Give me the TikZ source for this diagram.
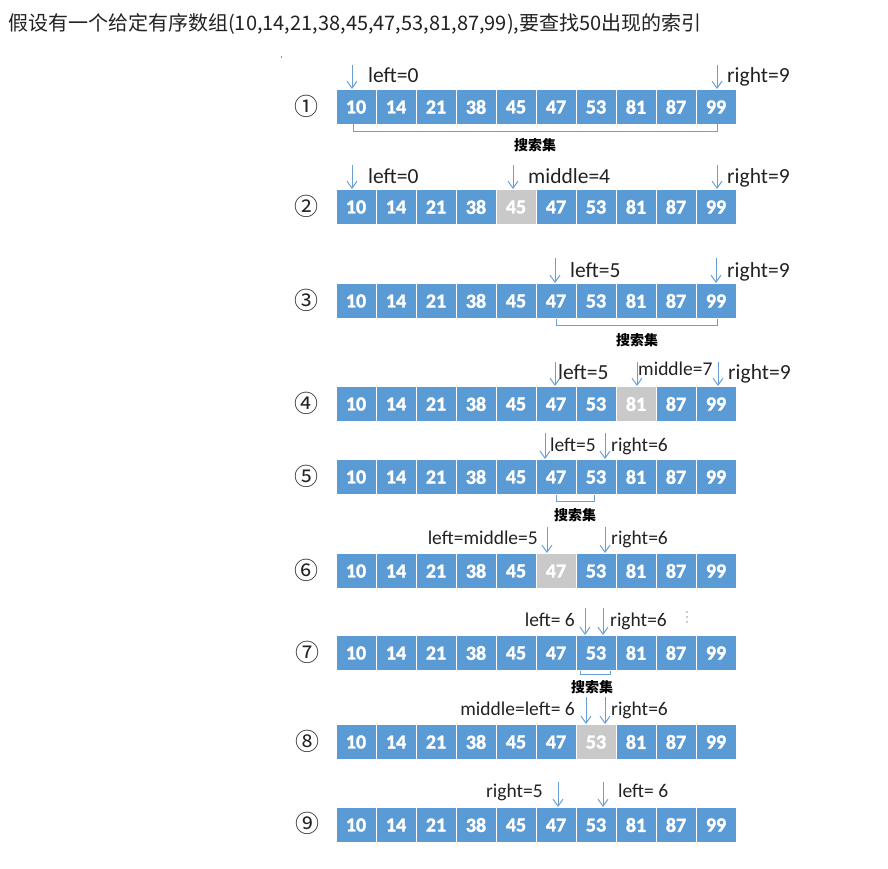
\documentclass[tikz,border=0pt]{standalone}
\usepackage{fontspec}
\setmainfont{Carlito}[BoldFont={Carlito Bold}]
\newfontfamily\cjk{Noto Sans CJK SC}
\newfontfamily\cellfont{Carlito}[BoldFont={Carlito Bold}, BoldFeatures={FakeBold=1.6}]
\usetikzlibrary{arrows.meta}
\definecolor{cellblue}{HTML}{5B9BD5}
\definecolor{cellgray}{HTML}{C9C9C9}
\definecolor{ptrblue}{HTML}{6A9FD6}
\definecolor{txt}{HTML}{222222}
\tikzset{
  cell/.style={rectangle, draw=white, line width=1pt, minimum width=40pt, minimum height=35pt, inner sep=0pt, text=white, font=\cellfont\bfseries\fontsize{20}{22}\selectfont},
  circnum/.style={inner sep=0pt, text=txt, font=\cjk\fontsize{24}{26}\selectfont},
  lblL/.style={inner sep=0pt, text=txt, font=\fontsize{21.5}{24}\selectfont},
  lblS/.style={inner sep=0pt, text=txt, font=\fontsize{19.5}{22}\selectfont},
  setlbl/.style={inner sep=0pt, text=black, font=\cjk\bfseries\fontsize{14}{16}\selectfont},
  ptr/.style={draw=ptrblue, line width=1pt, -{Straight Barb[length=7pt,width=10pt]}},
  brk/.style={draw=ptrblue, line width=1pt},
}
\newcommand\arrayrow[3]{%
  \foreach \v [count=\i from 0] in {10,14,21,38,45,47,53,81,87,99} {
    \ifnum\i=#3\relax \def\fc{cellgray}\else \def\fc{cellblue}\fi
    \node[cell, fill=\fc] (r#1c\i) at ({356+40*\i},#2) {\v};
  }}
\newcommand\pointer[4]{%
  \coordinate (#1s) at (#2,#3);
  \coordinate (#1e) at (#2,#4);
  \draw[ptr] (#1s) -- (#1e);}
\newcommand\bracket[5]{%
  \coordinate (#1a) at (#2,#4);
  \coordinate (#1b) at (#2,#5);
  \coordinate (#1c) at (#3,#5);
  \coordinate (#1d) at (#3,#4);
  \draw[brk] (#1a) -- (#1b) -- (#1c) -- (#1d);}
\begin{document}
\begin{tikzpicture}[x=1pt,y=-1pt]
\useasboundingbox (0,0) rectangle (888,869);
\node[anchor=west, inner sep=0pt, text=txt, font=\cjk\fontsize{20}{22}\selectfont] (title) at (8,24) {假设有一个给定有序数组(10,14,21,38,45,47,53,81,87,99),要查找50出现的索引};
\fill[txt] (281.5,57) circle (0.6);
\fill[txt] (687,612) circle (0.6);
\fill[txt] (687,617) circle (0.6);
\fill[txt] (687,622) circle (0.6);
% rows
\arrayrow{1}{107}{-1}
\arrayrow{2}{207}{4}
\arrayrow{3}{301}{-1}
\arrayrow{4}{404}{7}
\arrayrow{5}{477}{-1}
\arrayrow{6}{571}{5}
\arrayrow{7}{653}{-1}
\arrayrow{8}{742}{6}
\arrayrow{9}{825}{-1}
% circled numbers
\node[circnum] (n1) at (306,106) {①};
\node[circnum] (n2) at (306,206) {②};
\node[circnum] (n3) at (306,300) {③};
\node[circnum] (n4) at (306,403) {④};
\node[circnum] (n5) at (306,476) {⑤};
\node[circnum] (n6) at (306,570) {⑥};
\node[circnum] (n7) at (307,652) {⑦};
\node[circnum] (n8) at (307,741) {⑧};
\node[circnum] (n9) at (307,823) {⑨};
% row 1
\pointer{p1a}{352}{65}{89}
\pointer{p1b}{717}{65}{89}
\node[lblL, anchor=base west] (l1a) at (368,83) {left=0};
\node[lblL, anchor=base west] (l1b) at (727,83) {right=9};
\bracket{b1}{353}{717}{124.5}{132}
\node[setlbl] (s1) at (535,145) {搜索集};
% row 2
\pointer{p2a}{352}{165}{189}
\pointer{p2b}{513}{165}{189}
\pointer{p2c}{717}{165}{189}
\node[lblL, anchor=base west] (l2a) at (368,183) {left=0};
\node[lblL, anchor=base west] (l2b) at (528,183) {middle=4};
\node[lblL, anchor=base west] (l2c) at (727,183) {right=9};
% row 3
\pointer{p3a}{555}{258}{283}
\pointer{p3b}{716}{258}{283}
\node[lblL, anchor=base west] (l3a) at (570,277) {left=5};
\node[lblL, anchor=base west] (l3b) at (727,277) {right=9};
\bracket{b3}{556}{717}{318.5}{325}
\node[setlbl] (s3) at (637,340) {搜索集};
% row 4
\pointer{p4a}{555}{362}{386}
\pointer{p4b}{637}{362}{386}
\pointer{p4c}{718}{362}{386}
\node[lblL, anchor=base west] (l4a) at (558,379) {left=5};
\node[lblS, anchor=base west] (l4b) at (638,375) {middle=7};
\node[lblL, anchor=base west] (l4c) at (728,379) {right=9};
% row 5
\pointer{p5a}{545}{433}{459}
\pointer{p5b}{605}{433}{459}
\node[lblS, anchor=base west] (l5a) at (550,451) {left=5};
\node[lblS, anchor=base west] (l5b) at (611,451) {right=6};
\bracket{b5}{556}{594}{494.5}{501}
\node[setlbl] (s5) at (575,515) {搜索集};
% row 6
\pointer{p6a}{547}{527}{553}
\pointer{p6b}{605}{527}{553}
\node[lblS, anchor=base east] (l6a) at (538,544) {left=middle=5};
\node[lblS, anchor=base west] (l6b) at (611,544) {right=6};
% row 7
\pointer{p7a}{585}{608}{635}
\pointer{p7b}{603}{608}{635}
\node[lblS, anchor=base east] (l7a) at (575,626) {left= 6};
\node[lblS, anchor=base west] (l7b) at (610,626) {right=6};
\bracket{b7}{580}{610}{670.5}{674}
\node[setlbl] (s7) at (592,687) {搜索集};
% row 8
\pointer{p8a}{586}{697}{724}
\pointer{p8b}{605}{697}{724}
\node[lblS, anchor=base east] (l8a) at (575,715) {middle=left= 6};
\node[lblS, anchor=base west] (l8b) at (611,715) {right=6};
% row 9
\pointer{p9a}{558}{782}{807}
\pointer{p9b}{603}{782}{807}
\node[lblS, anchor=base east] (l9a) at (543,797) {right=5};
\node[lblS, anchor=base west] (l9b) at (618,797) {left= 6};
\end{tikzpicture}
\end{document}
